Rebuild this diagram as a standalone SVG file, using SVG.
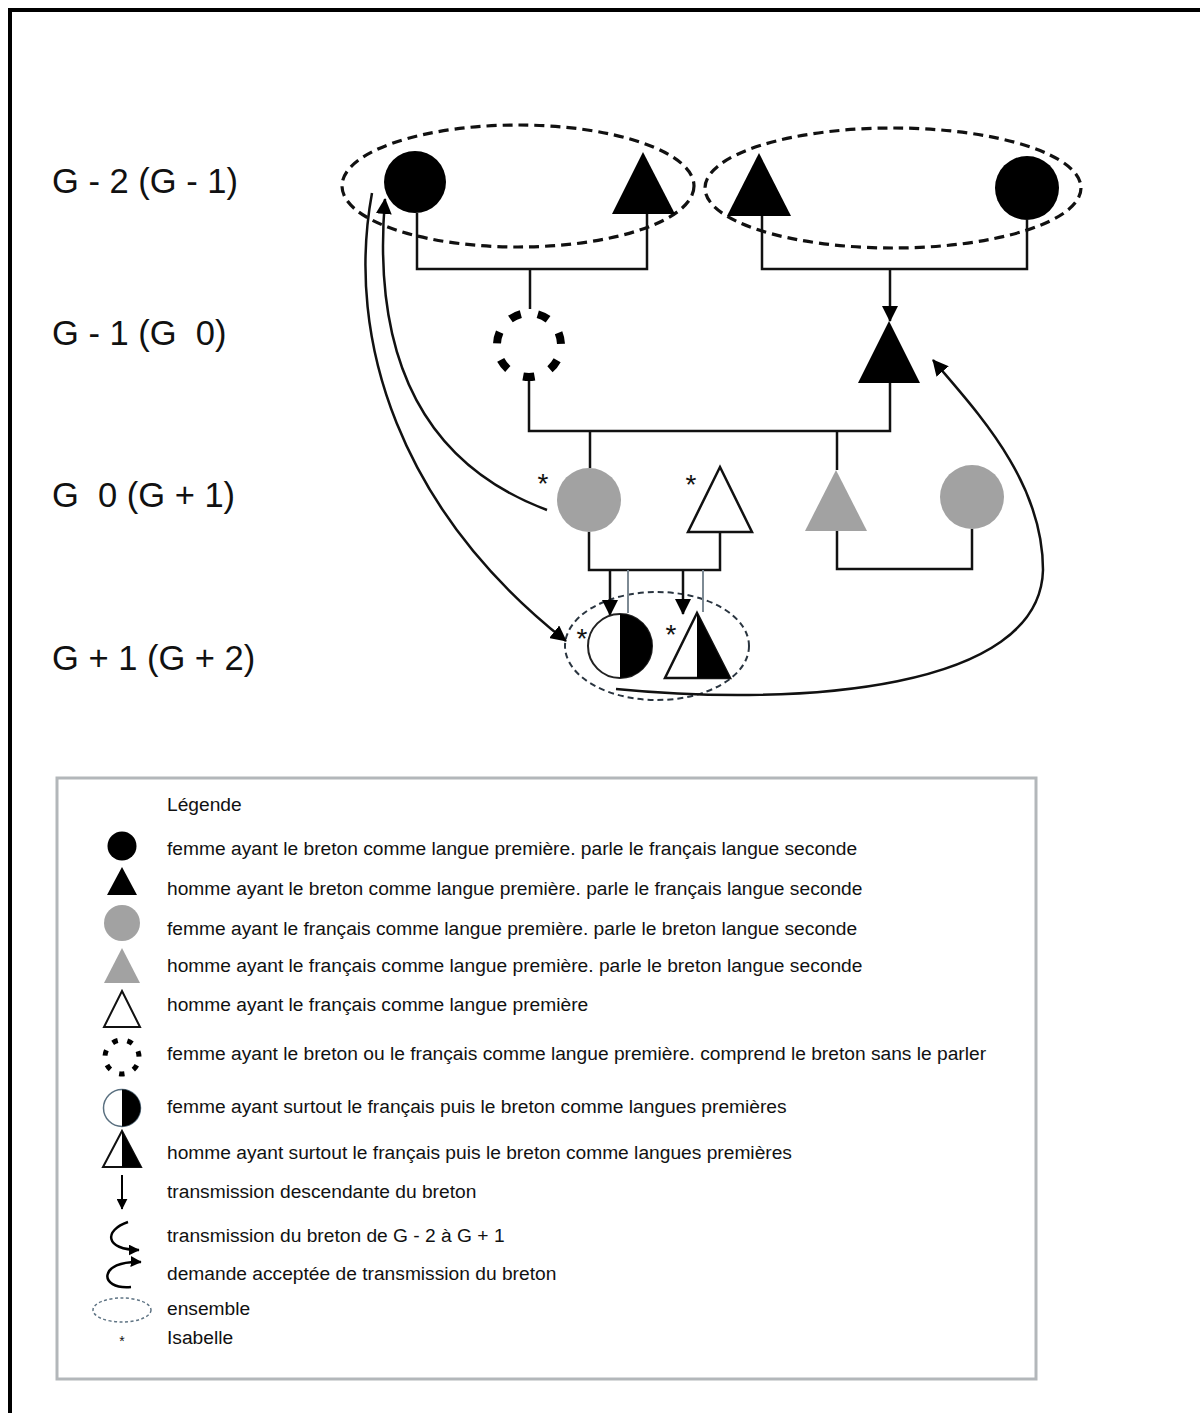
<svg xmlns="http://www.w3.org/2000/svg" width="1200" height="1413" viewBox="0 0 1200 1413">
<style>
.lbl{font-family:"Liberation Sans",Arial,sans-serif;font-size:34.5px;fill:#111;white-space:pre}
.lg{font-family:"Liberation Sans",Arial,sans-serif;font-size:19.2px;fill:#111}
.ast{font-family:"Liberation Sans",Arial,sans-serif;font-size:28px;fill:#111;text-anchor:middle}
.ln{fill:none;stroke:#111;stroke-width:2.5}
.thin{fill:none;stroke:#7d8a94;stroke-width:2}
.blk{fill:#000}
.gry{fill:#a2a2a2}
.wht{fill:#fff;stroke:#111;stroke-width:2.5}
.ens{fill:none;stroke:#111;stroke-width:3.2;stroke-dasharray:10 6}
.ens2{fill:none;stroke:#2a3540;stroke-width:2;stroke-dasharray:6 4}
</style>
<defs>
<marker id="arr" markerUnits="userSpaceOnUse" markerWidth="16" markerHeight="16" viewBox="0 0 16 16" refX="15" refY="8" orient="auto"><path d="M0,0 L16,8 L0,16 z" fill="#000"/></marker>
<marker id="arrS" markerUnits="userSpaceOnUse" markerWidth="11" markerHeight="11" viewBox="0 0 16 16" refX="15" refY="8" orient="auto"><path d="M0,0 L16,8 L0,16 z" fill="#000"/></marker>
</defs>
<rect width="1200" height="1413" fill="#fff"/>
<path d="M10,1413 V10 H1200" fill="none" stroke="#000" stroke-width="4"/>

<g id="labels">
<text class="lbl" x="52" y="193">G - 2 (G - 1)</text>
<text class="lbl" x="52" y="345">G - 1 (G  0)</text>
<text class="lbl" x="52" y="507">G  0 (G + 1)</text>
<text class="lbl" x="52" y="670">G + 1 (G + 2)</text>
</g>

<g id="ensembles">
<ellipse id="ens-g2a" class="ens" cx="518" cy="186" rx="176" ry="61"/>
<ellipse id="ens-g2b" class="ens" cx="893" cy="188" rx="188" ry="60"/>
<ellipse id="ens-g1" class="ens2" cx="657" cy="646" rx="92" ry="54"/>
</g>

<g id="connectors">
<path class="ln" d="M417,213 V269 H647 V214"/>
<path class="ln" d="M530,269 V309"/>
<path class="ln" d="M762,216 V269 H1027 V220"/>
<path class="ln" d="M890,269 V321" marker-end="url(#arr)"/>
<path class="ln" d="M529,381 V431 H890 V383"/>
<path class="ln" d="M590,431 V468"/>
<path class="ln" d="M837,431 V470"/>
<path class="ln" d="M589,532 V570 H720 V532"/>
<path class="ln" d="M837,531 V569 H972 V529"/>
<path class="thin" d="M628,570 V613"/>
<path class="thin" d="M703,570 V612"/>
<path class="ln" d="M610,570 V615" marker-end="url(#arr)"/>
<path class="ln" d="M683,570 V614" marker-end="url(#arr)"/>
<path class="ln" d="M372,193 C345,340 400,510 566,641" marker-end="url(#arr)"/>
<path class="ln" d="M547,510 C440,470 370,380 385,199" marker-end="url(#arr)"/>
<path class="ln" d="M616,689 C800,707 1040,690 1043,570 C1043,480 975,410 933,360" marker-end="url(#arr)"/>
</g>

<g id="n-g2-f1"><ellipse class="blk" cx="415" cy="182" rx="31" ry="31"/></g>
<g id="n-g2-h1"><polygon class="blk" points="643,152 675,214 612,214"/></g>
<g id="n-g2-h2"><polygon class="blk" points="759,153 791,216 727,216"/></g>
<g id="n-g2-f2"><ellipse class="blk" cx="1027" cy="188" rx="32" ry="32"/></g>

<g id="n-g1-f"><circle cx="529" cy="345" r="32" fill="none" stroke="#000" stroke-width="8" stroke-dasharray="11.5 17.22" stroke-dashoffset="12.85"/></g>
<g id="n-g1-h"><polygon class="blk" points="889,321 920,383 858,383"/></g>

<g id="n-g0-f1"><ellipse class="gry" cx="589" cy="500" rx="32" ry="32"/><text class="ast" x="543" y="493">*</text></g>
<g id="n-g0-h1"><polygon class="wht" points="720,467 752,532 688,532"/><text class="ast" x="691" y="494">*</text></g>
<g id="n-g0-h2"><polygon class="gry" points="836,470 867,531 805,531"/></g>
<g id="n-g0-f2"><ellipse class="gry" cx="972" cy="497" rx="32" ry="32"/></g>

<g id="n-gp1-f">
<circle cx="620" cy="646" r="32" fill="#fff" stroke="#222" stroke-width="2"/>
<path d="M620,614 A32,32 0 0 1 620,678 Z" fill="#000"/>
<text class="ast" x="582" y="648">*</text>
</g>
<g id="n-gp1-h">
<polygon points="697,613 730,678 665,678" fill="#fff" stroke="#111" stroke-width="2.5"/>
<polygon points="697,613 730,678 697,678" fill="#000"/>
<text class="ast" x="671" y="644">*</text>
</g>

<g id="legend">
<rect x="57" y="778" width="979" height="601" fill="none" stroke="#b3b7ba" stroke-width="3"/>
<text class="lg" x="167" y="811">Légende</text>
<circle cx="122" cy="846" r="14.5" fill="#000"/>
<text class="lg" x="167" y="855">femme ayant le breton comme langue première. parle le français langue seconde</text>
<polygon points="122,867 137,895 107,895" fill="#000"/>
<text class="lg" x="167" y="895">homme ayant le breton comme langue première. parle le français langue seconde</text>
<circle cx="122" cy="923" r="18" fill="#a2a2a2"/>
<text class="lg" x="167" y="935">femme ayant le français comme langue première. parle le breton langue seconde</text>
<polygon points="122,948 140,983 104,983" fill="#a2a2a2"/>
<text class="lg" x="167" y="972">homme ayant le français comme langue première. parle le breton langue seconde</text>
<polygon points="122,991 140,1027 104,1027" fill="#fff" stroke="#111" stroke-width="2"/>
<text class="lg" x="167" y="1011">homme ayant le français comme langue première</text>
<circle cx="122" cy="1057" r="17" fill="none" stroke="#000" stroke-width="5" stroke-dasharray="5.5 9.76" stroke-dashoffset="6.55"/>
<text class="lg" x="167" y="1060">femme ayant le breton ou le français comme langue première. comprend le breton sans le parler</text>
<circle cx="122" cy="1108" r="18.5" fill="#fff" stroke="#5a7080" stroke-width="1.5"/>
<path d="M122,1089.5 A18.5,18.5 0 0 1 122,1126.5 Z" fill="#000"/>
<text class="lg" x="167" y="1113">femme ayant surtout le français puis le breton comme langues premières</text>
<polygon points="122,1131 141,1167 103,1167" fill="#fff" stroke="#111" stroke-width="2"/>
<polygon points="122,1131 141,1167 122,1167" fill="#000"/>
<text class="lg" x="167" y="1159">homme ayant surtout le français puis le breton comme langues premières</text>
<path d="M122,1175 V1209" fill="none" stroke="#000" stroke-width="2" marker-end="url(#arrS)"/>
<text class="lg" x="167" y="1198">transmission descendante du breton</text>
<path d="M128,1222 C104,1230 104,1250 139,1250" fill="none" stroke="#000" stroke-width="2.5" marker-end="url(#arrS)"/>
<text class="lg" x="167" y="1242">transmission du breton de G - 2 à G + 1</text>
<path d="M131,1287 C98,1290 98,1260 141,1262" fill="none" stroke="#000" stroke-width="2.5" marker-end="url(#arrS)"/>
<text class="lg" x="167" y="1280">demande acceptée de transmission du breton</text>
<ellipse cx="122" cy="1310" rx="29" ry="12" fill="none" stroke="#5f7484" stroke-width="1.5" stroke-dasharray="3 2.5"/>
<text class="lg" x="167" y="1315">ensemble</text>
<text x="122" y="1346" font-family="Liberation Sans, Arial, sans-serif" font-size="14" text-anchor="middle" fill="#111">*</text>
<text class="lg" x="167" y="1344">Isabelle</text>
</g>
</svg>
